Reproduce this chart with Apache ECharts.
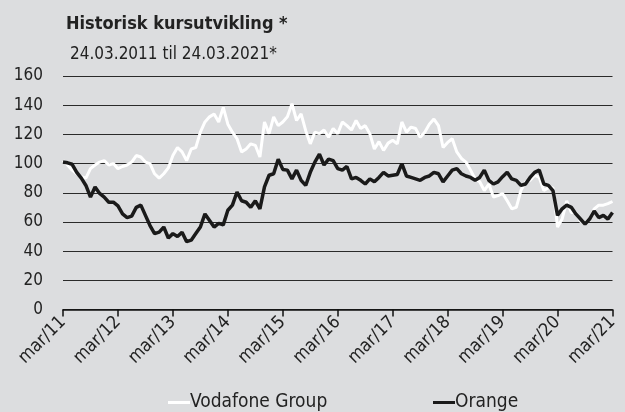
<!DOCTYPE html>
<html><head><meta charset="utf-8">
<script src="https://cdn.jsdelivr.net/npm/echarts@6/dist/echarts.min.js"></script>
<style>html,body{margin:0;padding:0;background:#dcdddf;}#c{width:625px;height:412px;}</style>
</head><body><div id="c"></div>
<script>
// months since mar/11
var tickLabels = ['mar/11','mar/12','mar/13','mar/14','mar/15','mar/16','mar/17','mar/18','mar/19','mar/20','mar/21'];
var yTicks = [0,20,40,60,80,100,120,140,160];
var vodafone = [102,99,95.5,93,91,90,96.5,99,101,102,99,100,96.5,98,99,101,105.5,104.5,101,100,93,90,93,97,105.5,
  111,108,102,110,111,121.5,128.5,132,134,128.5,138.5,127,121.5,117,108,110,113.5,112.5,104.5,128.5,120.5,132,126,128.5,
  132,141,129.5,134,122.5,113.5,121.5,120.5,123,118,124,120.5,128.5,126,123,129.5,124,126,120.5,110,115,109,114,116,
  113.5,128.5,121.5,125,124,118,121.5,127,130.5,126,111,114.5,117,108,103.5,101,95.5,89.5,87.5,81.5,86,77,78,79.5,
  74.5,69,70,81.5,87.5,88.5,92,90.5,81.5,83.5,83.5,56.5,62,74.5,66.5,66.5,60.5,59.5,62,69,71.5,71.5,72.5,74];
var orange = [101,100.5,99.5,94,90,85,77,84,79.5,77,73.5,73.5,71,65.5,63,64,70,71.5,64.5,57.5,52,53,56.5,49,52,
  50,53,46.5,47.5,52,56.5,65.5,61,56.5,59,58,68,71.5,80.5,74.5,73.5,70,74.5,69,84,92,93,103,96,
  95.5,89.5,95.5,88.5,85,94,101,106.5,99,103,102,96.5,95.5,98,89.5,90.5,88.5,86,89.5,87.5,90.5,94,91.5,92,
  92.5,100,91.5,90.5,89.5,88.5,90.5,91.5,94,93,87.5,91.5,95.5,96.5,93,91.5,90.5,88.5,90.5,95.5,88.5,86,87.5,91,
  94,89.5,88.5,85,86,90.5,94,95.5,86,85,81.5,64.5,69,71.5,70,65.5,62,58.5,62,67.5,63,64.5,62,66.5];

function pairs(arr){ return arr.map(function(v,i){ return [i, v]; }); }

var chart = echarts.init(document.getElementById('c'), null, {renderer:'canvas'});
var font = '"Liberation Sans Narrow","DejaVu Sans Condensed","Roboto",sans-serif';
chart.setOption({
  backgroundColor:'#dcdddf',
  animation:false,
  title:[
    {text:'Historisk kursutvikling *', left:61, top:10, textStyle:{fontFamily:font, fontSize:18, fontWeight:'bold', color:'#222'}},
    {text:'24.03.2011 til 24.03.2021*', left:65, top:41, textStyle:{fontFamily:font, fontSize:17, fontWeight:'normal', color:'#222'}}
  ],
  legend:[
    {data:['Vodafone Group'], left:163, top:388, icon:'rect', itemWidth:22, itemHeight:3, itemGap:0,
     textStyle:{fontFamily:font, fontSize:19, color:'#222', padding:[0,0,0,-5]}},
    {data:['Orange'], left:428, top:388, icon:'rect', itemWidth:22, itemHeight:3, itemGap:0,
     textStyle:{fontFamily:font, fontSize:19, color:'#222', padding:[0,0,0,-5]}}
  ],
  grid:{left:63, right:12.5, top:76, bottom:102.5},
  xAxis:{type:'value', min:0, max:120, interval:12,
    axisLine:{show:true, onZero:false, lineStyle:{color:'#111', width:1.5}},
    axisTick:{show:true, length:7, lineStyle:{color:'#111', width:1.5}},
    splitLine:{show:false},
    axisLabel:{rotate:45, margin:10, fontFamily:font, fontSize:18, color:'#222',
      formatter:function(v){ return tickLabels[Math.round(v/12)] || ''; }}
  },
  yAxis:{type:'value', min:yTicks[0], max:yTicks[yTicks.length-1], interval:20,
    axisLine:{show:false}, axisTick:{show:false},
    splitLine:{show:true, lineStyle:{color:'#2a2a2a', width:1.2}},
    axisLabel:{margin:20, fontFamily:font, fontSize:17, color:'#222'}
  },
  series:[
    {name:'Vodafone Group', type:'line', data:pairs(vodafone), symbol:'none', itemStyle:{color:'#ffffff'},
     lineStyle:{color:'#ffffff', width:3}},
    {name:'Orange', type:'line', data:pairs(orange), symbol:'none', itemStyle:{color:'#1a1a1a'},
     lineStyle:{color:'#1a1a1a', width:3.5}}
  ]
});
</script></body></html>
